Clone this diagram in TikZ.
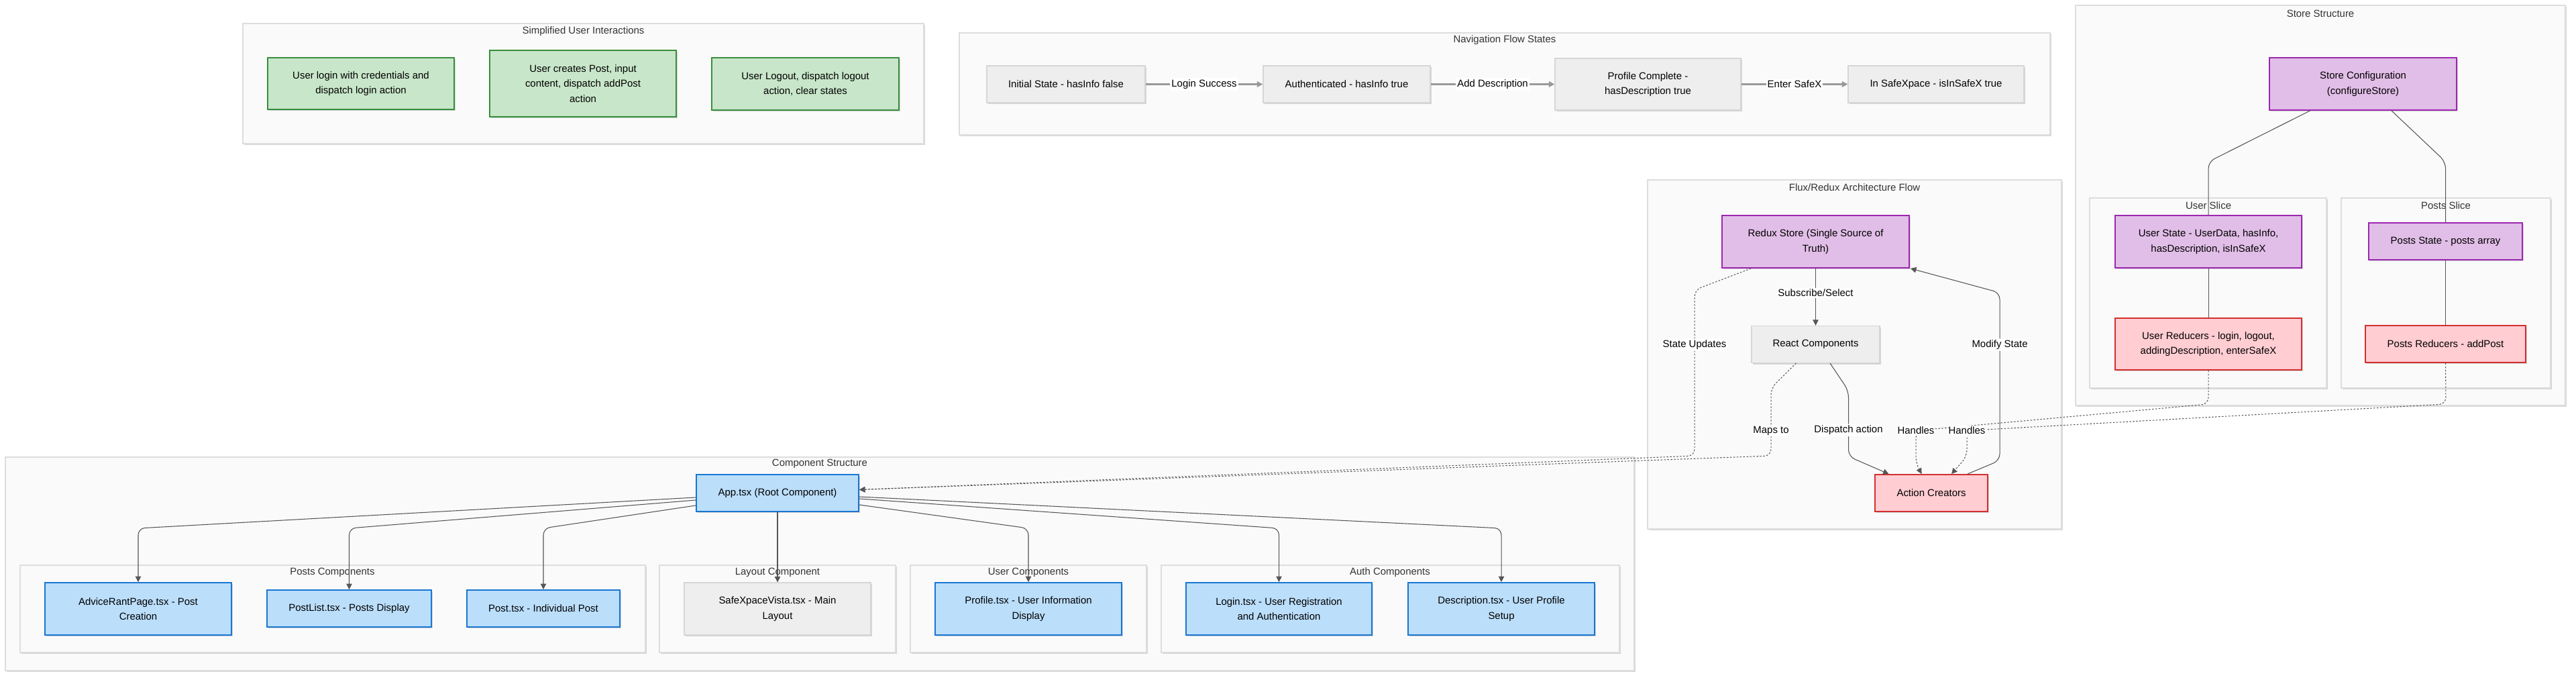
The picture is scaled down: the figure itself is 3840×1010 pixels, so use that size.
\documentclass[tikz,border=0pt]{standalone}
\usepackage{fontspec}
\setmainfont{Liberation Sans}
\usetikzlibrary{arrows.meta, calc, shadows}

\definecolor{clusterfill}{HTML}{FAFAFA}
\definecolor{clusterline}{HTML}{DDDDDD}
\definecolor{greenfill}{HTML}{C8E6C9}
\definecolor{greenline}{HTML}{388E3C}
\definecolor{grayfill}{HTML}{EEEEEE}
\definecolor{grayline}{HTML}{D6D6D6}
\definecolor{purplefill}{HTML}{E1BEE7}
\definecolor{purpleline}{HTML}{9C27B0}
\definecolor{redfill}{HTML}{FFCDD2}
\definecolor{redline}{HTML}{D32F2F}
\definecolor{bluefill}{HTML}{BBDEFB}
\definecolor{blueline}{HTML}{1976D2}
\definecolor{linkcolor}{HTML}{555555}
\definecolor{flowcolor}{HTML}{999999}
\definecolor{titlecolor}{HTML}{333333}

\tikzset{
    txt/.style={font=\fontsize{4.25}{6.4}\selectfont, align=center, inner sep=0pt},
    dims/.style 2 args={minimum width=#1*0.01cm, minimum height=#2*0.01cm},
    boxshadow/.style={drop shadow={shadow xshift=0.5pt, shadow yshift=-0.7pt, opacity=0.15, fill=black}},
    cluster/.style={draw=clusterline, fill=clusterfill, line width=0.35pt, boxshadow},
    ctitle/.style={txt, text=titlecolor},
    box/.style={txt, boxshadow, line width=0.55pt},
    greenbox/.style={box, fill=greenfill, draw=greenline},
    graybox/.style={box, fill=grayfill, draw=grayline, line width=0.35pt},
    purplebox/.style={box, fill=purplefill, draw=purpleline},
    redbox/.style={box, fill=redfill, draw=redline},
    bluebox/.style={box, fill=bluefill, draw=blueline},
    link/.style={draw=linkcolor, line width=0.3pt, rounded corners=1mm},
    linkarrow/.style={link, -{Triangle[length=2.4pt, width=2.4pt]}},
    dotarrow/.style={linkarrow, dash pattern=on 0.7pt off 0.7pt},
    flow/.style={draw=flowcolor, line width=0.6pt, -{Triangle[length=2.4pt, width=2.4pt]}},
    lbl/.style={txt, fill=white, inner sep=0.6pt},
}

\begin{document}
\begin{tikzpicture}[x=0.01cm, y=-0.01cm]

    \useasboundingbox (0,0) rectangle (3840,1010);

    %% Frames

    % Simplified user interactions
    \draw[cluster] (362,35) rectangle (1377,214);
    \node [ctitle] (tinter) at (869.5,47) {Simplified User Interactions};

    % Navigation flow
    \draw[cluster] (1430,49) rectangle (3056,201);
    \node [ctitle] (tnav) at (2243,60) {Navigation Flow States};

    % Store structure and slices
    \draw[cluster] (3094,8) rectangle (3824,604);
    \node [ctitle] (tstore) at (3459,20) {Store Structure};
    \draw[cluster] (3115,295) rectangle (3468,578);
    \node [ctitle] (tuser) at (3292,306) {User Slice};
    \draw[cluster] (3490,295) rectangle (3802,578);
    \node [ctitle] (tposts) at (3646,306) {Posts Slice};

    % Flux / Redux
    \draw[cluster] (2456,268) rectangle (3073,788);
    \node [ctitle] (tflux) at (2764.5,279) {Flux/Redux Architecture Flow};

    % Component structure and groups
    \draw[cluster] (8,681) rectangle (2436,999);
    \node [ctitle] (tcomp) at (1222,691) {Component Structure};
    \draw[cluster] (30,842) rectangle (962,972);
    \node [ctitle] (tpostc) at (495.5,853) {Posts Components};
    \draw[cluster] (983,842) rectangle (1335,972);
    \node [ctitle] (tlayout) at (1159,853) {Layout Component};
    \draw[cluster] (1357,842) rectangle (1709,972);
    \node [ctitle] (tuserc) at (1533,853) {User Components};
    \draw[cluster] (1731,842) rectangle (2414,972);
    \node [ctitle] (tauth) at (2072,853) {Auth Components};

    \coordinate (bend) at (0,241);
    \coordinate (row) at (0,787);

    %% Boxes

    % User interactions
    \node [greenbox, dims={278}{77}] (ulogin) at (538,124.5) {User login with credentials and\\dispatch login action};
    \node [greenbox, dims={278}{99}] (upost) at (869,124.5) {User creates Post, input\\content, dispatch addPost\\action};
    \node [greenbox, dims={279}{78}] (ulogout) at (1200.5,125) {User Logout, dispatch logout\\action, clear states};

    % States
    \node [graybox, dims={236}{55}] (sinit) at (1589,125.5) {Initial State - hasInfo false};
    \node [graybox, dims={249}{55}] (sauth) at (2007.5,125.5) {Authenticated - hasInfo true};
    \node [graybox, dims={277}{77}] (sprof) at (2456.5,125.5) {Profile Complete -\\hasDescription true};
    \node [graybox, dims={262}{55}] (ssafe) at (2886,125.5) {In SafeXpace - isInSafeX true};

    % Store
    \node [purplebox, dims={279}{78}] (storecfg) at (3522.5,125) {Store Configuration\\(configureStore)};
    \node [purplebox, dims={278}{78}] (ustate) at (3292,360) {User State - UserData, hasInfo,\\hasDescription, isInSafeX};
    \node [redbox, dims={278}{77}] (ured) at (3292,512.5) {User Reducers - login, logout,\\addingDescription, enterSafeX};
    \node [purplebox, dims={229}{55}] (pstate) at (3645.5,359.5) {Posts State - posts array};
    \node [redbox, dims={239}{55}] (pred) at (3645.5,512.5) {Posts Reducers - addPost};

    % Flux
    \node [purplebox, dims={279}{78}] (redux) at (2706.5,360) {Redux Store (Single Source of\\Truth)};
    \node [graybox, dims={191}{55}] (react) at (2706.5,513) {React Components};
    \node [redbox, dims={168}{55}] (actions) at (2879,734.5) {Action Creators};

    % Components
    \node [bluebox, dims={242}{55}] (app) at (1159,734.5) {App.tsx (Root Component)};
    \node [bluebox, dims={278}{78}] (advice) at (206,907) {AdviceRantPage.tsx - Post\\Creation};
    \node [bluebox, dims={245}{55}] (postlist) at (520.5,906.5) {PostList.tsx - Posts Display};
    \node [bluebox, dims={228}{55}] (post) at (810,906.5) {Post.tsx - Individual Post};
    \node [graybox, dims={278}{78}] (layout) at (1159,907) {SafeXpaceVista.tsx - Main\\Layout};
    \node [bluebox, dims={278}{78}] (profile) at (1533,907) {Profile.tsx - User Information\\Display};
    \node [bluebox, dims={277}{78}] (login) at (1906.5,907) {Login.tsx - User Registration\\and Authentication};
    \node [bluebox, dims={278}{78}] (desc) at (2238,907) {Description.tsx - User Profile\\Setup};

    %% Connectors

    % State transitions
    \draw[flow] (sinit) -- node[lbl] {Login Success} (sauth);
    \draw[flow] (sauth) -- node[lbl] {Add Description} (sprof);
    \draw[flow] (sprof) -- node[lbl] {Enter SafeX} (ssafe);

    % Store tree
    \draw[link] ($(storecfg.south)+(-79,0)$) -- (ustate.north |- bend) -- (ustate.north);
    \draw[link] ($(storecfg.south)+(42.5,0)$) -- (pstate.north |- bend) -- (pstate.north);
    \draw[link] (ustate) -- (ured);
    \draw[link] (pstate) -- (pred);

    % Flux cycle
    \draw[linkarrow] (redux) -- node[lbl, pos=0.43] {Subscribe/Select} (react);
    \draw[linkarrow] ($(react.south)+(21.5,0)$) -- (2755.5,582) -- node[lbl, pos=0.6] {Dispatch action} (2755.5,680) -- ($(actions.north)+(-63.5,0)$);
    \draw[linkarrow] ($(actions.north)+(54,0)$) -- (2981,686) -- node[lbl, pos=0.69] {Modify State} (2981,436) -- ($(redux.south east)+(1,0)$);
    \draw[dotarrow] ($(redux.south west)+(44,0)$) -- (2526,432) -- node[lbl, pos=0.33] {State Updates} (2526,679) -- ($(app.east)+(0,-5)$);
    \draw[dotarrow] ($(react.south west)+(67,0)$) -- (2640,578) -- node[lbl, pos=0.63] {Maps to} (2640,679) -- ($(app.east)+(0,-5)$);
    \draw[dotarrow] (ured.south) -- (3292,602) -- (2856,641.5) node[lbl] {Handles} -- (2856,690) -- ($(actions.north)+(-14.5,0)$);
    \draw[dotarrow] (pred.south) -- (3646,602) -- (2932,641.5) node[lbl] {Handles} -- (2932,680) -- ($(actions.north)+(30,0)$);

    % App children
    \draw[linkarrow] ($(app.west)+(0,6.5)$) -- (advice.north |- row) -- (advice.north);
    \draw[linkarrow] ($(app.west)+(0,10.5)$) -- (postlist.north |- row) -- (postlist.north);
    \draw[linkarrow] ($(app.west)+(0,18.5)$) -- (post.north |- row) -- (post.north);
    \draw[linkarrow] (app) -- (layout);
    \draw[linkarrow] ($(app.east)+(0,17.5)$) -- (profile.north |- row) -- (profile.north);
    \draw[linkarrow] ($(app.east)+(0,8.5)$) -- (login.north |- row) -- (login.north);
    \draw[linkarrow] ($(app.east)+(0,5.5)$) -- (desc.north |- row) -- (desc.north);

\end{tikzpicture}
\end{document}
